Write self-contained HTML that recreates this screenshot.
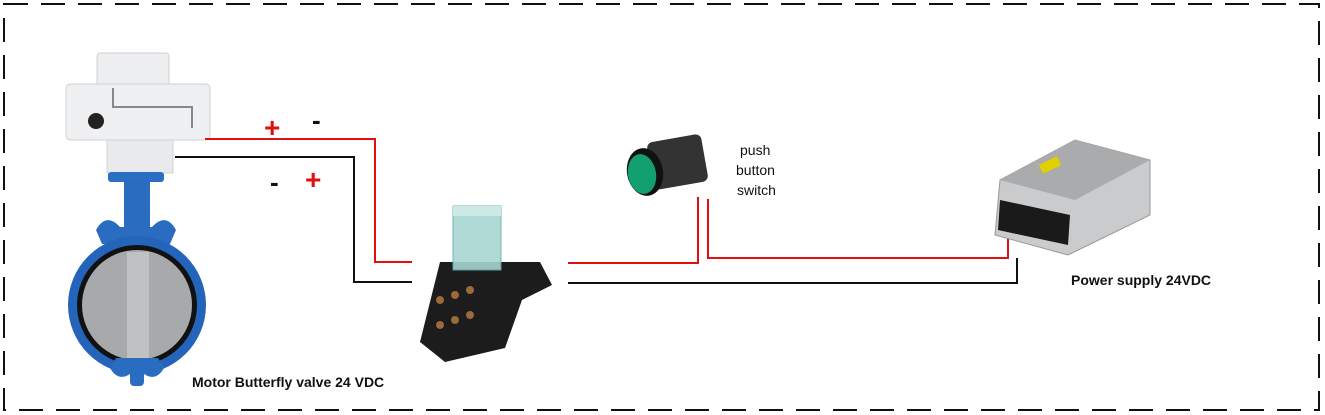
<!DOCTYPE html>
<html><head><style>
body{margin:0;background:#fff;}
svg{display:block;font-family:"Liberation Sans",sans-serif;}
</style></head><body>
<svg width="1325" height="415" viewBox="0 0 1325 415">
<rect x="4" y="4" width="1315" height="406" fill="none" stroke="#111" stroke-width="2" stroke-dasharray="24,13"/>
<!-- valve -->
<rect x="97" y="53" width="72" height="36" rx="3" fill="#eceef0" stroke="#d0d2d4"/>
<rect x="66" y="84" width="144" height="56" rx="4" fill="#eef0f2" stroke="#d0d2d4"/>
<rect x="107" y="140" width="66" height="33" fill="#e8eaec" stroke="#d0d2d4"/>
<circle cx="96" cy="121" r="8" fill="#222"/>
<path d="M113 88 V107 H192 V128" fill="none" stroke="#888" stroke-width="2"/>
<rect x="108" y="172" width="56" height="10" rx="3" fill="#2a6fc4"/>
<rect x="124" y="180" width="26" height="70" fill="#2a6cc0"/>
<path d="M96 230 q10 -18 24 -3 l32 0 q14 -15 24 3 l-6 14 h-68z" fill="#2a6cc0"/>
<circle cx="137" cy="305" r="69" fill="#2464bb"/>
<circle cx="137" cy="305" r="60" fill="#111"/>
<circle cx="137" cy="305" r="55" fill="#a7a9ab"/>
<rect x="127" y="252" width="22" height="106" fill="#bfc1c3"/>
<path d="M110 368 q8 14 20 6 h14 q12 8 20 -6 l-6 -10 h-42z" fill="#2a6cc0"/>
<rect x="130" y="370" width="14" height="16" rx="4" fill="#2a6cc0"/>
<!-- wires -->
<g fill="none" stroke-width="2">
<path d="M205 139 H375 V262 H412" stroke="#e01010"/>
<path d="M175 157 H354 V282 H412" stroke="#111"/>
<path d="M568 263 H698 V197" stroke="#e01010"/>
<path d="M708 199 V258 H1008 V238" stroke="#e01010"/>
<path d="M568 283 H1017 V258" stroke="#111"/>
</g>
<text x="264" y="137" font-size="28" font-weight="bold" fill="#e01010">+</text>
<text x="312" y="129" font-size="26" fill="#111" font-weight="bold">-</text>
<text x="270" y="191" font-size="26" fill="#111" font-weight="bold">-</text>
<text x="305" y="189" font-size="28" font-weight="bold" fill="#e01010">+</text>
<!-- relay -->
<polygon points="440,262 540,262 552,285 522,300 505,348 445,362 420,342" fill="#1c1c1c"/>
<rect x="453" y="206" width="48" height="64" fill="#a8d6d2" stroke="#6aa" opacity="0.9"/>
<rect x="453" y="206" width="48" height="10" fill="#cdeae7"/>
<g fill="#9a6a3a"><circle cx="440" cy="300" r="4"/><circle cx="455" cy="295" r="4"/><circle cx="470" cy="290" r="4"/><circle cx="440" cy="325" r="4"/><circle cx="455" cy="320" r="4"/><circle cx="470" cy="315" r="4"/></g>
<!-- push button -->
<rect x="650" y="138" width="55" height="48" rx="6" fill="#333" transform="rotate(-10 677 162)"/>
<ellipse cx="645" cy="172" rx="18" ry="24" fill="#111" transform="rotate(-10 645 172)"/>
<ellipse cx="642" cy="174" rx="14" ry="20" fill="#12a070" transform="rotate(-10 642 174)"/>
<text x="740" y="155" font-size="14" fill="#111">push</text>
<text x="736" y="175" font-size="14" fill="#111">button</text>
<text x="737" y="195" font-size="14" fill="#111">switch</text>
<!-- power supply -->
<polygon points="1000,180 1075,140 1150,160 1150,215 1068,255 995,235" fill="#c9cbcd" stroke="#999"/>
<polygon points="1000,180 1075,140 1150,160 1075,200" fill="#a9abad"/>
<polygon points="1000,200 1070,215 1068,245 998,230" fill="#1a1a1a"/>
<rect x="1040" y="160" width="20" height="10" fill="#e0d000" transform="rotate(-25 1050 165)"/>
<text x="1071" y="285" font-size="14" font-weight="bold" fill="#111">Power supply 24VDC</text>
<text x="192" y="387" font-size="14" font-weight="bold" fill="#111">Motor Butterfly valve 24 VDC</text>
</svg>
</body></html>
